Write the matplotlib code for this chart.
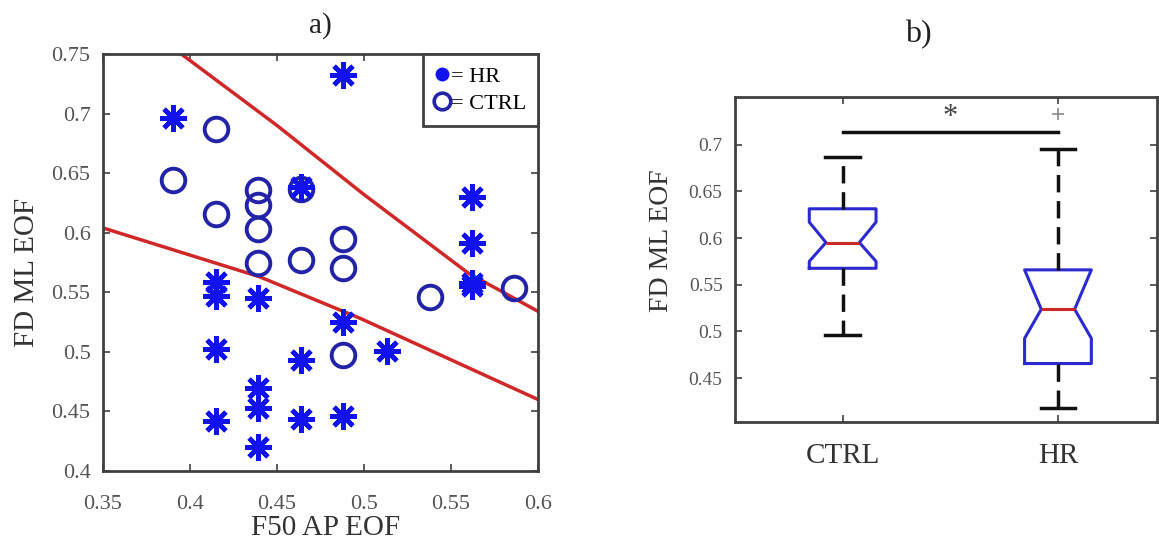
import matplotlib
matplotlib.use("Agg")
import matplotlib.pyplot as plt
from matplotlib.lines import Line2D
from matplotlib.ticker import FuncFormatter

# pannello a): punti
hr_x = [0.488, 0.390, 0.464, 0.562, 0.562, 0.562, 0.562, 0.415, 0.415, 0.439,
        0.488, 0.415, 0.513, 0.464, 0.439, 0.439, 0.415, 0.464, 0.488, 0.439]
hr_y = [0.732, 0.696, 0.638, 0.630, 0.591, 0.558, 0.555, 0.559, 0.547, 0.545,
        0.525, 0.502, 0.501, 0.493, 0.470, 0.453, 0.442, 0.444, 0.446, 0.420]
ctrl_x = [0.415, 0.390, 0.415, 0.439, 0.439, 0.439, 0.439, 0.464, 0.464,
          0.488, 0.488, 0.488, 0.538, 0.586]
ctrl_y = [0.687, 0.644, 0.616, 0.636, 0.623, 0.603, 0.575, 0.637, 0.577,
          0.595, 0.570, 0.497, 0.546, 0.554]

# confini di decisione (curve rosse)
upper_x = [0.395, 0.450, 0.500, 0.560, 0.600]
upper_y = [0.750, 0.690, 0.632, 0.566, 0.534]
lower_x = [0.350, 0.440, 0.498, 0.600]
lower_y = [0.604, 0.563, 0.528, 0.460]

# pannello b): statistiche dei boxplot
groups = ["CTRL", "HR"]
q1 = [0.5676, 0.4656]
med = [0.5952, 0.5237]
q3 = [0.6313, 0.5659]
whis_lo = [0.496, 0.418]
whis_hi = [0.687, 0.695]
ci_lo = [0.575, 0.4926]
ci_hi = [0.617, 0.5659]
fliers = [[], [0.733]]
sig_y = 0.713

STAR = "#1212ee"
CIRC = "#2323a8"
RED = "#d02828"
BOXB = "#2a2ad0"
SPINE = "#404040"
TICKC = "#555555"

plt.rcParams["font.family"] = ["Liberation Serif", "DejaVu Serif"]
fmt = FuncFormatter(lambda v, p: f"{v:g}")

fig = plt.figure(figsize=(11.59, 5.46), dpi=100)
W, H = 1159, 546


def style(ax, labelsize, xpad, ypad):
    for s in ax.spines.values():
        s.set_color(SPINE)
        s.set_linewidth(2)
    ax.tick_params(direction="in", top=True, right=True, length=5, width=1.2,
                   color=SPINE, labelcolor=TICKC, labelsize=labelsize)
    ax.tick_params(axis="x", pad=xpad)
    ax.tick_params(axis="y", pad=ypad)


# ---- a) ----
ax1 = fig.add_axes([103 / W, 1 - 471 / H, 435 / W, 417 / H])
ax1.plot(upper_x, upper_y, color=RED, lw=2.5, zorder=2)
ax1.plot(lower_x, lower_y, color=RED, lw=2.5, zorder=2)
ax1.plot(ctrl_x, ctrl_y, ls="none", marker="o", ms=17, mfc="none", mec=CIRC, mew=2.8, zorder=3)
ax1.plot(hr_x, hr_y, ls="none", marker=(8, 2, 0), ms=19, mec=STAR, mew=3.4, zorder=4)
ax1.set_xlim(0.35, 0.6)
ax1.set_ylim(0.4, 0.75)
ax1.set_xticks([0.35, 0.4, 0.45, 0.5, 0.55, 0.6])
ax1.set_yticks([0.4, 0.45, 0.5, 0.55, 0.6, 0.65, 0.7, 0.75])
ax1.xaxis.set_major_formatter(fmt)
ax1.yaxis.set_major_formatter(fmt)
style(ax1, 16, 17, 9)

handles = [
    Line2D([], [], ls="none", marker="o", ms=9, color=STAR),
    Line2D([], [], ls="none", marker="o", ms=12, mfc="none", mec=CIRC, mew=2.6),
]
leg = ax1.legend(handles, ["= HR", "= CTRL"], loc="upper right", borderaxespad=0,
                 fancybox=False, framealpha=1, edgecolor=SPINE, fontsize=16,
                 handlelength=0.6, handletextpad=0.1, borderpad=0.55,
                 labelspacing=0.3)
leg.get_frame().set_linewidth(2)

fig.text(326 / W, 1 - 528 / H, "F50 AP EOF", ha="center", va="center", fontsize=21, color="#333")
fig.text(27 / W, 1 - 272 / H, "FD ML EOF", rotation=90, ha="center", va="center", fontsize=21, color="#333")
fig.text(320 / W, 1 - 26 / H, "a)", ha="center", va="center", fontsize=21, color="#222")

# ---- b) ----
ax2 = fig.add_axes([735 / W, 1 - 422 / H, 422 / W, 325 / H])
stats = []
for i, g in enumerate(groups):
    stats.append(dict(label=g, q1=q1[i], med=med[i], q3=q3[i], whislo=whis_lo[i],
                      whishi=whis_hi[i], cilo=ci_lo[i], cihi=ci_hi[i], fliers=fliers[i]))
ax2.bxp(stats, positions=[1, 2], widths=0.31, shownotches=True, capwidths=0.16,
        boxprops=dict(color=BOXB, lw=2.2),
        medianprops=dict(color=RED, lw=2.2),
        whiskerprops=dict(color="#111", lw=2.5, ls=(0, (5, 2.5))),
        capprops=dict(color="#111", lw=2.5),
        flierprops=dict(marker="+", ms=8, mec="#888", mew=1.2))
ax2.plot([1, 2], [sig_y, sig_y], color="#111", lw=2.5)
ax2.text(1.5, 0.729, "*", ha="center", va="center", fontsize=22, color="#444")
ax2.set_xlim(0.5, 2.46)
ax2.set_ylim(0.403, 0.751)
ax2.set_yticks([0.45, 0.5, 0.55, 0.6, 0.65, 0.7])
ax2.yaxis.set_major_formatter(fmt)
style(ax2, 14, 15, 9)
ax2.tick_params(axis="x", labelsize=21, labelcolor="#333")

fig.text(662 / W, 1 - 241 / H, "FD ML EOF", rotation=90, ha="center", va="center", fontsize=20, color="#333")
fig.text(918 / W, 1 - 35 / H, "b)", ha="center", va="center", fontsize=23, color="#222")

fig.savefig("out.png", dpi=100)
